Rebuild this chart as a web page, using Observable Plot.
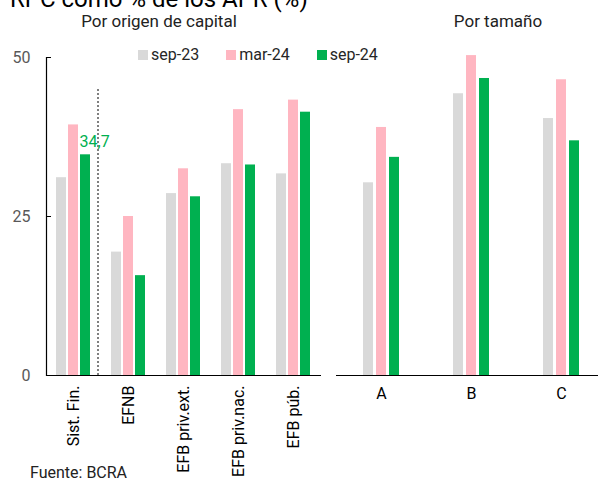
<!DOCTYPE html>
<html><head><meta charset="utf-8">
<script src="https://cdn.jsdelivr.net/npm/d3@7"></script>
<script src="https://cdn.jsdelivr.net/npm/@observablehq/plot@0.6"></script>
<style>
body{margin:0;background:#fff;font-family:Roboto,sans-serif;}
#root{position:relative;width:598px;height:480px;overflow:hidden;background:#fff;}
.abs{position:absolute;white-space:nowrap;}
.legend{display:flex;align-items:center;font-size:16px;line-height:16px;color:#262626;}
.legend .item{display:flex;align-items:center;margin-right:27px;}
.legend .sw{width:10px;height:10px;margin-right:3px;}
</style></head><body><div id="root"></div>
<script>
const series = ["sep-23", "mar-24", "sep-24"];
const colors = ["#d9d9d9", "#ffb6c1", "#00b050"];
const capitalCats = ["Sist. Fin.", "EFNB", "EFB priv.ext.", "EFB priv.nac.", "EFB púb."];
const capitalSep23 = [31.1, 19.4, 28.6, 33.3, 31.7];
const capitalMar24 = [39.4, 25.0, 32.5, 41.8, 43.3];
const capitalSep24 = [34.7, 15.7, 28.1, 33.1, 41.4];
const sizeCats = ["A", "B", "C"];
const sizeSep23 = [30.3, 44.3, 40.4];
const sizeMar24 = [39.0, 50.3, 46.5];
const sizeSep24 = [34.3, 46.7, 36.9];
const yTicks = [0, 25, 50];

function toRows(cats, arrays) {
  const rows = [];
  cats.forEach((c, i) => series.forEach((s, j) => rows.push({cat: c, series: s, value: arrays[j][i]})));
  return rows;
}
const capitalData = toRows(capitalCats, [capitalSep23, capitalMar24, capitalSep24]);
const sizeData = toRows(sizeCats, [sizeSep23, sizeMar24, sizeSep24]);
const highlight = capitalData.filter(d => d.cat === capitalCats[0] && d.series === "sep-24");
const fmt = v => d3.format(".1f")(v).replace(".", ",");

const root = document.getElementById("root");
const svgStyle = {background: "transparent", fontFamily: "Roboto", fontSize: "16px", color: "#000", overflow: "visible"};

const left = Plot.plot({
  width: 330, height: 480,
  marginTop: 57, marginBottom: 105, marginLeft: 45, marginRight: 8,
  style: svgStyle,
  fx: {domain: capitalCats, padding: 0, label: null},
  x: {domain: series, paddingInner: 0.16, paddingOuter: 0.83, axis: null},
  y: {domain: [0, 50]},
  color: {domain: series, range: colors},
  marks: [
    Plot.barY(capitalData, {fx: "cat", x: "series", y: "value", fill: "series"}),
    Plot.ruleY([0], {stroke: "#000", strokeWidth: 1.2}),
    Plot.frame({anchor: "left", facetAnchor: "left", stroke: "#000", strokeWidth: 1.2}),
    Plot.axisY({ticks: yTicks, tickSize: -5, tickPadding: 21, stroke: "#000", fill: "#595959", fontSize: 16, label: null}),
    Plot.axisFx({anchor: "bottom", tickRotate: -90, tickSize: 0, tickPadding: 10, fontSize: 16, fill: "#000", label: null}),
    Plot.ruleX(highlight, {fx: "cat", x: "series", y1: 0, y2: 45, dx: 12.5, stroke: "#000", strokeWidth: 1, strokeDasharray: "2,2"}),
    Plot.text(highlight, {fx: "cat", x: "series", y: "value", text: d => fmt(d.value), fill: "#00b050", fontSize: 16, textAnchor: "start", dx: -6, dy: -13})
  ]
});

const right = Plot.plot({
  width: 277, height: 480,
  marginTop: 57, marginBottom: 105, marginLeft: 5, marginRight: 0,
  style: svgStyle,
  fx: {domain: sizeCats, padding: 0, label: null},
  x: {domain: series, paddingInner: 0.22, paddingOuter: 1.96, axis: null},
  y: {domain: [0, 50], axis: null},
  color: {domain: series, range: colors},
  marks: [
    Plot.barY(sizeData, {fx: "cat", x: "series", y: "value", fill: "series"}),
    Plot.ruleY([0], {stroke: "#000", strokeWidth: 1.2}),
    Plot.axisFx({anchor: "bottom", tickSize: 0, tickPadding: 12, fontSize: 16, fill: "#000", label: null})
  ]
});

function place(el, x, y, w) {
  const d = document.createElement("div");
  d.className = "abs";
  d.style.left = x + "px"; d.style.top = y + "px";
  if (w) d.style.width = w + "px";
  d.appendChild(el);
  root.appendChild(d);
  return d;
}
place(left, 0, 0, 330);
place(right, 330, 0, 277);

function textDiv(txt, x, y, size, color, center) {
  const d = document.createElement("div");
  d.className = "abs";
  d.textContent = txt;
  d.style.fontSize = size + "px";
  d.style.lineHeight = size + "px";
  d.style.color = color;
  d.style.top = y + "px";
  if (center) { d.style.left = (x - 200) + "px"; d.style.width = "400px"; d.style.textAlign = "center"; }
  else d.style.left = x + "px";
  root.appendChild(d);
}
textDiv("RPC como % de los APR (%)", 10, -13, 24, "#000", false);
textDiv("Por origen de capital", 159, 13, 17, "#222", true);
textDiv("Por tamaño", 498, 13, 17, "#222", true);
textDiv("Fuente: BCRA", 30, 465, 16, "#222", false);

const legend = document.createElement("div");
legend.className = "abs legend";
legend.style.left = "138px"; legend.style.top = "47px";
series.forEach((s, i) => {
  const it = document.createElement("div"); it.className = "item";
  const sw = document.createElement("div"); sw.className = "sw"; sw.style.background = colors[i];
  const t = document.createElement("span"); t.textContent = s;
  it.appendChild(sw); it.appendChild(t); legend.appendChild(it);
});
root.appendChild(legend);
</script></body></html>
